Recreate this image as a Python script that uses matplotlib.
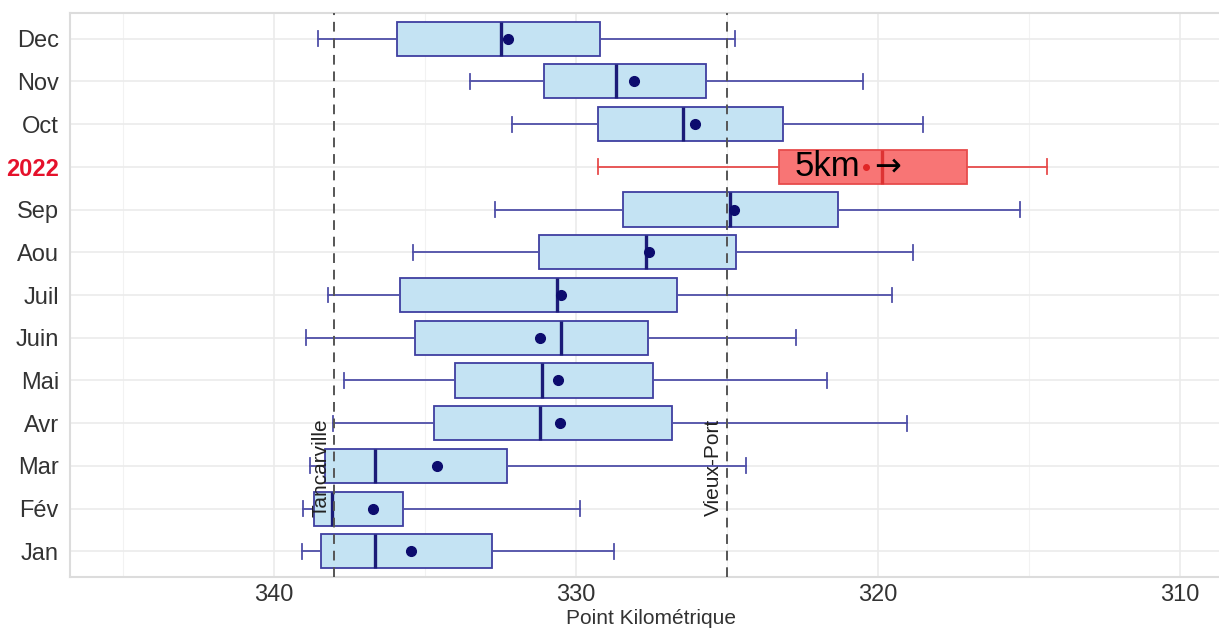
import matplotlib
matplotlib.use("Agg")
import matplotlib.pyplot as plt
from matplotlib.ticker import MultipleLocator

plt.rcParams['font.family'] = ['Liberation Sans', 'DejaVu Sans']

# ---- data (bottom to top) ----
categories = ["Jan", "Fév", "Mar", "Avr", "Mai", "Juin", "Juil", "Aou", "Sep", "2022", "Oct", "Nov", "Dec"]
whisker_low = [339.08, 339.03, 338.80, 338.05, 337.69, 338.95, 338.22, 335.38, 332.69, 329.27, 332.13, 333.51, 338.53]
q1 =          [338.44, 338.68, 338.32, 334.69, 334.01, 335.34, 335.81, 331.23, 328.45, 323.28, 329.27, 331.06, 335.94]
median =      [336.64, 338.08, 336.64, 331.19, 331.12, 330.48, 330.63, 327.68, 324.91, 319.88, 326.46, 328.68, 332.47]
q3 =          [332.78, 335.73, 332.27, 326.81, 327.46, 327.60, 326.66, 324.70, 321.33, 317.07, 323.14, 325.69, 329.20]
whisker_high = [328.74, 329.88, 324.38, 319.05, 321.68, 322.72, 319.53, 318.85, 315.31, 314.41, 318.50, 320.51, 324.72]
mean =        [335.45, 336.73, 334.59, 330.54, 330.61, 331.19, 330.50, 327.59, 324.76, 320.40, 326.05, 328.09, 332.26]
highlight = "2022"
ref_lines = [338.0, 325.0]
ref_labels = ["Tancarville", "Vieux-Port"]
x_ticks = [340, 330, 320, 310]
x_label = "Point Kilométrique"
annot_text = "5km"
annot_arrow = "→"
annot_x = 322.75

W, H = 1219, 631
fig = plt.figure(figsize=(W / 100, H / 100), dpi=100)
ax = fig.add_axes([70 / W, 1 - 577 / H, (1233 - 70) / W, (577 - 13) / H])

# grid
ax.set_xlim(346.75, 308.25)
ax.set_ylim(-0.6, len(categories) - 0.4)
ax.xaxis.set_major_locator(MultipleLocator(10))
ax.xaxis.set_minor_locator(MultipleLocator(5))
ax.set_xticks(x_ticks)
ax.grid(which='major', axis='both', color='#ebebeb', lw=1.2, zorder=0)
ax.grid(which='minor', axis='x', color='#f2f2f2', lw=0.8, zorder=0)
ax.set_axisbelow(True)

blue_fill = '#c4e3f3'
blue_edge = '#3f3fa0'
blue_whisk = '#4f4fa8'
blue_med = '#1b1b78'
red_fill = '#f87575'
red_edge = '#e74c4c'
red_med = '#dd3333'

for i, cat in enumerate(categories):
    st = dict(label=cat, whislo=whisker_low[i], q1=q1[i], med=median[i], q3=q3[i],
              whishi=whisker_high[i], mean=mean[i], fliers=[])
    hl = (cat == highlight)
    fill = red_fill if hl else blue_fill
    edge = red_edge if hl else blue_edge
    whisk = red_edge if hl else blue_whisk
    med = red_med if hl else blue_med
    mcol = '#e02525' if hl else '#0c0c6e'
    msize = 4 if hl else 7
    ax.bxp([st], positions=[i], vert=False, widths=0.8, capwidths=0.35,
           showmeans=True, patch_artist=True, manage_ticks=False,
           boxprops=dict(facecolor=fill, edgecolor=edge, lw=1.3),
           whiskerprops=dict(color=whisk, lw=1.3),
           capprops=dict(color=whisk, lw=1.3),
           medianprops=dict(color=med, lw=2.4),
           meanprops=dict(marker='o', markerfacecolor=mcol, markeredgecolor=mcol,
                          markersize=msize),
           zorder=3)

# reference lines
for xv, lab in zip(ref_lines, ref_labels):
    ax.axvline(xv, color='#555555', lw=1.4, ls=(0, (5, 3.5)), zorder=4)
    ax.annotate(lab, xy=(xv, categories.index("Mar")), xytext=(-3, -1),
                textcoords='offset points', rotation=90, ha='right', va='center',
                fontsize=15, color='#222222', zorder=6)

# annotation in 2022 box
t = ax.text(annot_x, categories.index(highlight), annot_text, fontsize=25,
            ha='left', va='center', color='black', zorder=7)
ax.annotate(annot_arrow, xy=(1, 0.5), xycoords=t, xytext=(10, 0),
            textcoords='offset points', ha='left', va='center', fontsize=23,
            color='black', zorder=7, family=['DejaVu Sans'])

# axes styling
ax.set_yticks(range(len(categories)))
ax.set_yticklabels(categories)
for lbl in ax.get_yticklabels():
    if lbl.get_text() == highlight:
        lbl.set_color('#e5112b')
        lbl.set_fontweight('bold')
    else:
        lbl.set_color('#333333')
ax.tick_params(axis='y', labelsize=17, length=0, pad=8)
ax.tick_params(axis='x', labelsize=17, length=0, pad=5, colors='#333333')
ax.tick_params(which='minor', length=0)
ax.set_xlabel(x_label, fontsize=15, color='#333333', labelpad=2)
for sp in ax.spines.values():
    sp.set_color('#dcdcdc')
    sp.set_linewidth(1.5)

fig.savefig("out.png", dpi=100)
